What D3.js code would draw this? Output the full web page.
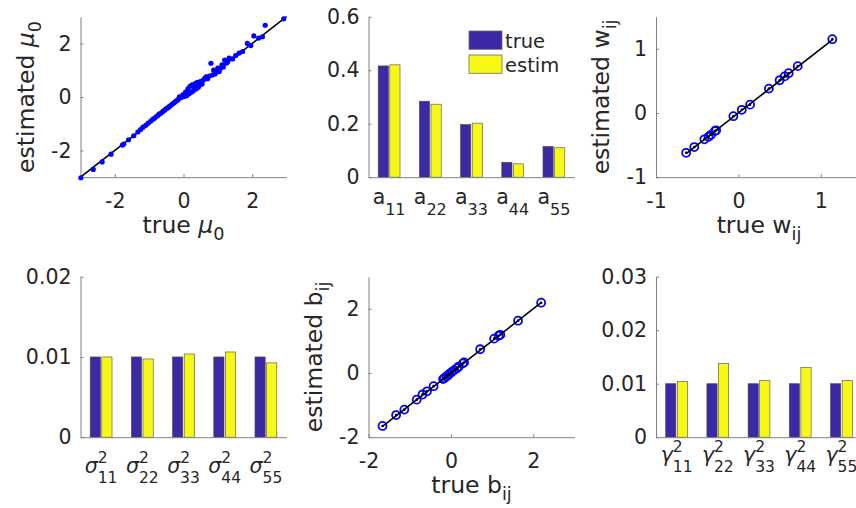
<!DOCTYPE html>
<html>
<head>
<meta charset="utf-8">
<script src="https://cdn.jsdelivr.net/npm/d3@7"></script>
<style>
  body { margin: 0; background: #fff; }
  svg { display: block; font-family: "DejaVu Sans", sans-serif; }
  .axis path, .axis line { stroke: #808080; }
  .axis text { fill: #262626; font-size: 20.5px; font-family: "DejaVu Sans", sans-serif; }
  .lab { fill: #262626; font-size: 23.5px; }
</style>
</head>
<body>
<svg id="chart" width="856" height="508"></svg>
<script>
// ---- data ----
const trueMu0 = [-2.99,-2.63,-2.37,-2.11,-1.78,-1.74,-1.6,-1.45,-1.33,-1.25,-1.18,-1.1,-1.03,-0.95,-0.89,-0.84,
  -0.79,-0.74,-0.7,-0.65,-0.6,-0.55,-0.5,-0.45,-0.41,-0.36,-0.31,-0.26,-0.21,-0.16,-0.12,-0.06,-0.02,0.03,0.06,
  0.1,0.13,0.16,0.19,0.22,0.25,0.28,0.31,0.34,0.37,0.4,0.43,0.46,0.5,0.54,0.58,0.62,0.66,0.7,0.75,0.8,0.84,0.88,
  0.92,0.96,1.0,1.04,1.08,1.12,1.16,1.2,1.24,1.28,1.33,1.43,1.52,1.62,1.72,1.86,1.96,2.05,2.19,2.3,2.38,2.92];
const estMu0 = [-3.02,-2.71,-2.43,-2.14,-1.8,-1.76,-1.6,-1.45,-1.31,-1.22,-1.13,-1.06,-0.98,-0.9,-0.83,-0.79,
  -0.73,-0.68,-0.63,-0.6,-0.54,-0.49,-0.44,-0.4,-0.35,-0.3,-0.25,-0.2,-0.15,-0.1,0.0,-0.02,0.08,0.02,0.18,
  0.05,0.3,0.12,0.4,0.18,0.45,0.22,0.38,0.5,0.3,0.55,0.36,0.44,0.58,0.48,0.63,0.7,0.75,0.68,0.78,1.26,0.82,1.0,
  0.86,0.94,1.08,0.95,1.07,1.2,1.12,1.38,1.26,1.3,1.45,1.42,1.55,1.64,1.7,2.0,1.92,2.28,2.2,2.25,2.68,2.92];
const muLine = [-3, 3];

const trueW = [-0.634,-0.535,-0.413,-0.362,-0.333,-0.285,-0.27,-0.061,0.041,0.142,0.37,0.5,0.561,0.61,0.72,1.14];
const estW  = [-0.62,-0.53,-0.41,-0.37,-0.34,-0.28,-0.27,-0.05,0.05,0.13,0.38,0.51,0.57,0.62,0.73,1.15];

const trueB = [-1.66,-1.33,-1.13,-0.83,-0.69,-0.58,-0.42,-0.19,-0.16,-0.11,-0.07,-0.03,0.02,0.08,0.15,0.19,
  0.29,0.32,0.71,1.05,1.16,1.2,1.63,2.19];
const estB  = [-1.65,-1.31,-1.14,-0.83,-0.67,-0.57,-0.41,-0.19,-0.16,-0.11,-0.07,-0.02,0.03,0.09,0.15,0.2,
  0.3,0.33,0.74,1.07,1.16,1.19,1.63,2.19];

const idx = ["11", "22", "33", "44", "55"];
const series = ["true", "estim"];
const aTrue  = [0.416, 0.284, 0.197, 0.056, 0.115];
const aEstim = [0.420, 0.273, 0.202, 0.050, 0.110];
const sTrue  = [0.01, 0.01, 0.01, 0.01, 0.01];
const sEstim = [0.0100, 0.00975, 0.01037, 0.01062, 0.00926];
const gTrue  = [0.01, 0.01, 0.01, 0.01, 0.01];
const gEstim = [0.01043, 0.01379, 0.01056, 0.01304, 0.01062];

const scatTicks1 = [-2, 0, 2];
const scatTicks3 = [-1, 0, 1];
const aTicks = [0, 0.2, 0.4, 0.6];
const sTicks = [0, 0.01, 0.02];
const gTicks = [0, 0.01, 0.02, 0.03];

// ---- layout ----
const svg = d3.select("#chart");
const colX = [80.5, 368.5, 656];
const rowY = [16.7, 276.7];
const W = 206, H = 160.5;
const BLUE = "#3c29a6", YELLOW = "#f8f816";

function box(c, r) { return { x0: colX[c], x1: colX[c] + W, y0: rowY[r], y1: rowY[r] + H }; }

// text with sub/superscripts
function rich(sel, parts, fs) {
  let shift = 0;
  parts.forEach(p => {
    const ts = sel.append("tspan").text(p.t);
    let target = p.sub ? p.sub : (p.sup ? -p.sup : 0);
    ts.attr("dy", target - shift);
    shift = target;
    if (p.sub || p.sup) ts.attr("font-size", p.fs || fs * 0.75);
    if (p.it) ts.attr("font-style", "italic");
    if (p.dx) ts.attr("dx", p.dx);
  });
}

function fmt(d) { return d === 0 ? "0" : String(d); }

function drawAxes(b, x, y, xTicks, yTicks, xTickLen) {
  svg.append("g").attr("class", "axis")
    .attr("transform", `translate(0,${b.y1})`)
    .call(d3.axisBottom(x).tickValues(xTicks).tickFormat(fmt)
      .tickSizeInner(-xTickLen).tickSizeOuter(0).tickPadding(16))
    .call(g => g.selectAll("text").attr("dy", "0.71em"));
  svg.append("g").attr("class", "axis")
    .attr("transform", `translate(${b.x0},0)`)
    .call(d3.axisLeft(y).tickValues(yTicks).tickFormat(fmt)
      .tickSizeInner(-3).tickSizeOuter(0).tickPadding(9));
}

function scatterPanel(c, r, dom, ticks, xs, ys, linePts, open, sym) {
  const b = box(c, r);
  const x = d3.scaleLinear().domain(dom).range([b.x0, b.x1]);
  const y = d3.scaleLinear().domain(dom).range([b.y1, b.y0]);
  drawAxes(b, x, y, ticks, ticks, 3);
  const pts = xs.map((v, i) => [v, ys[i]]);
  const line = d3.line().x(d => x(d[0])).y(d => y(d[1]));
  if (!open) {
    svg.append("path").attr("d", line(linePts.map(v => [v, v])))
      .attr("stroke", "#000").attr("stroke-width", 1.6).attr("fill", "none");
    svg.append("g").selectAll("circle").data(pts).join("circle")
      .attr("cx", d => x(d[0])).attr("cy", d => y(d[1])).attr("r", 2.6).attr("fill", "#0000ff");
  } else {
    svg.append("g").selectAll("circle").data(pts).join("circle")
      .attr("cx", d => x(d[0])).attr("cy", d => y(d[1])).attr("r", 4)
      .attr("fill", "none").attr("stroke", "#0000ff").attr("stroke-width", 1.8);
    const ext = d3.extent(xs);
    svg.append("path").attr("d", line(ext.map(v => [v, v])))
      .attr("stroke", "#000").attr("stroke-width", 1.6).attr("fill", "none");
    svg.append("g").selectAll("circle").data(pts).join("circle")
      .attr("cx", d => x(d[0])).attr("cy", d => y(d[1])).attr("r", 1.3).attr("fill", "#000");
  }
  // axis titles
  const fs = 23.5;
  rich(svg.append("text").attr("class", "lab").attr("text-anchor", "middle")
    .attr("x", (b.x0 + b.x1) / 2).attr("y", b.y1 + 55.5),
    [{ t: "true " }, { t: sym, it: sym === "μ" }, { t: sym === "μ" ? "0" : "ij", sub: 7 }], fs);
  rich(svg.append("text").attr("class", "lab").attr("text-anchor", "middle")
    .attr("transform", `translate(${b.x0 - 47},${(b.y0 + b.y1) / 2}) rotate(-90)`),
    [{ t: "estimated " }, { t: sym, it: sym === "μ" }, { t: sym === "μ" ? "0" : "ij", sub: 7 }], fs);
}

function barPanel(c, r, dom, ticks, tv, ev, sym, base, legend) {
  const b = box(c, r);
  const x = d3.scaleBand().domain(idx).range([b.x0, b.x1]).paddingInner(0.47).paddingOuter(0.235);
  const xs = d3.scaleBand().domain(series).range([0, x.bandwidth()]).paddingInner(0.12);
  const y = d3.scaleLinear().domain(dom).range([b.y1, b.y0]);
  const rows = idx.map((k, i) => ({ k, v: [tv[i], ev[i]] }));
  const g = svg.append("g");
  series.forEach((s, j) => {
    g.selectAll(null).data(rows).join("rect")
      .attr("x", d => x(d.k) + xs(s)).attr("width", xs.bandwidth())
      .attr("y", d => y(d.v[j])).attr("height", d => y(0) - y(d.v[j]))
      .attr("fill", j ? YELLOW : BLUE).attr("stroke", "#4a4a4a").attr("stroke-width", 0.6);
  });
  svg.append("g").attr("class", "axis")
    .attr("transform", `translate(0,${b.y1})`)
    .call(d3.axisBottom(x).tickSize(0).tickFormat(""));
  svg.append("g").attr("class", "axis")
    .attr("transform", `translate(${b.x0},0)`)
    .call(d3.axisLeft(y).tickValues(ticks).tickFormat(fmt)
      .tickSizeInner(-3).tickSizeOuter(0).tickPadding(9));
  // category labels
  idx.forEach(k => {
    const t = svg.append("text").attr("class", "lab").attr("font-size", 20.5).style("font-size", "20.5px")
      .attr("text-anchor", "middle").attr("x", x(k) + x.bandwidth() / 2).attr("y", b.y1 + base);
    if (sym === "a") {
      rich(t, [{ t: "a" }, { t: k, sub: 10.5, fs: 16 }], 20.5);
    } else {
      rich(t, [{ t: sym, it: true }, { t: "2", sup: 10, fs: 15.5 }, { t: k, sub: 10, fs: 15.5, dx: -9.9 }], 20.5);
    }
  });
  if (legend) {
    const lg = svg.append("g");
    series.forEach((s, j) => {
      lg.append("rect").attr("x", 469).attr("y", 31 + j * 24).attr("width", 33).attr("height", 18.3)
        .attr("fill", j ? YELLOW : BLUE).attr("stroke", "#6a6a6a").attr("stroke-width", 0.8);
      lg.append("text").attr("x", 505).attr("y", 47.5 + j * 24.3).attr("font-size", 19.5)
        .attr("fill", "#262626").text(s);
    });
  }
}

scatterPanel(0, 0, [-3, 3], scatTicks1, trueMu0, estMu0, muLine, false, "μ");
barPanel(1, 0, [0, 0.6], aTicks, aTrue, aEstim, "a", 27, true);
scatterPanel(2, 0, [-1, 1.5], scatTicks3, trueW, estW, null, true, "w");
barPanel(0, 1, [0, 0.02], sTicks, sTrue, sEstim, "σ", 35.3, false);
scatterPanel(1, 1, [-2, 3], scatTicks1, trueB, estB, null, true, "b");
barPanel(2, 1, [0, 0.03], gTicks, gTrue, gEstim, "γ", 24.5, false);
</script>
</body>
</html>
